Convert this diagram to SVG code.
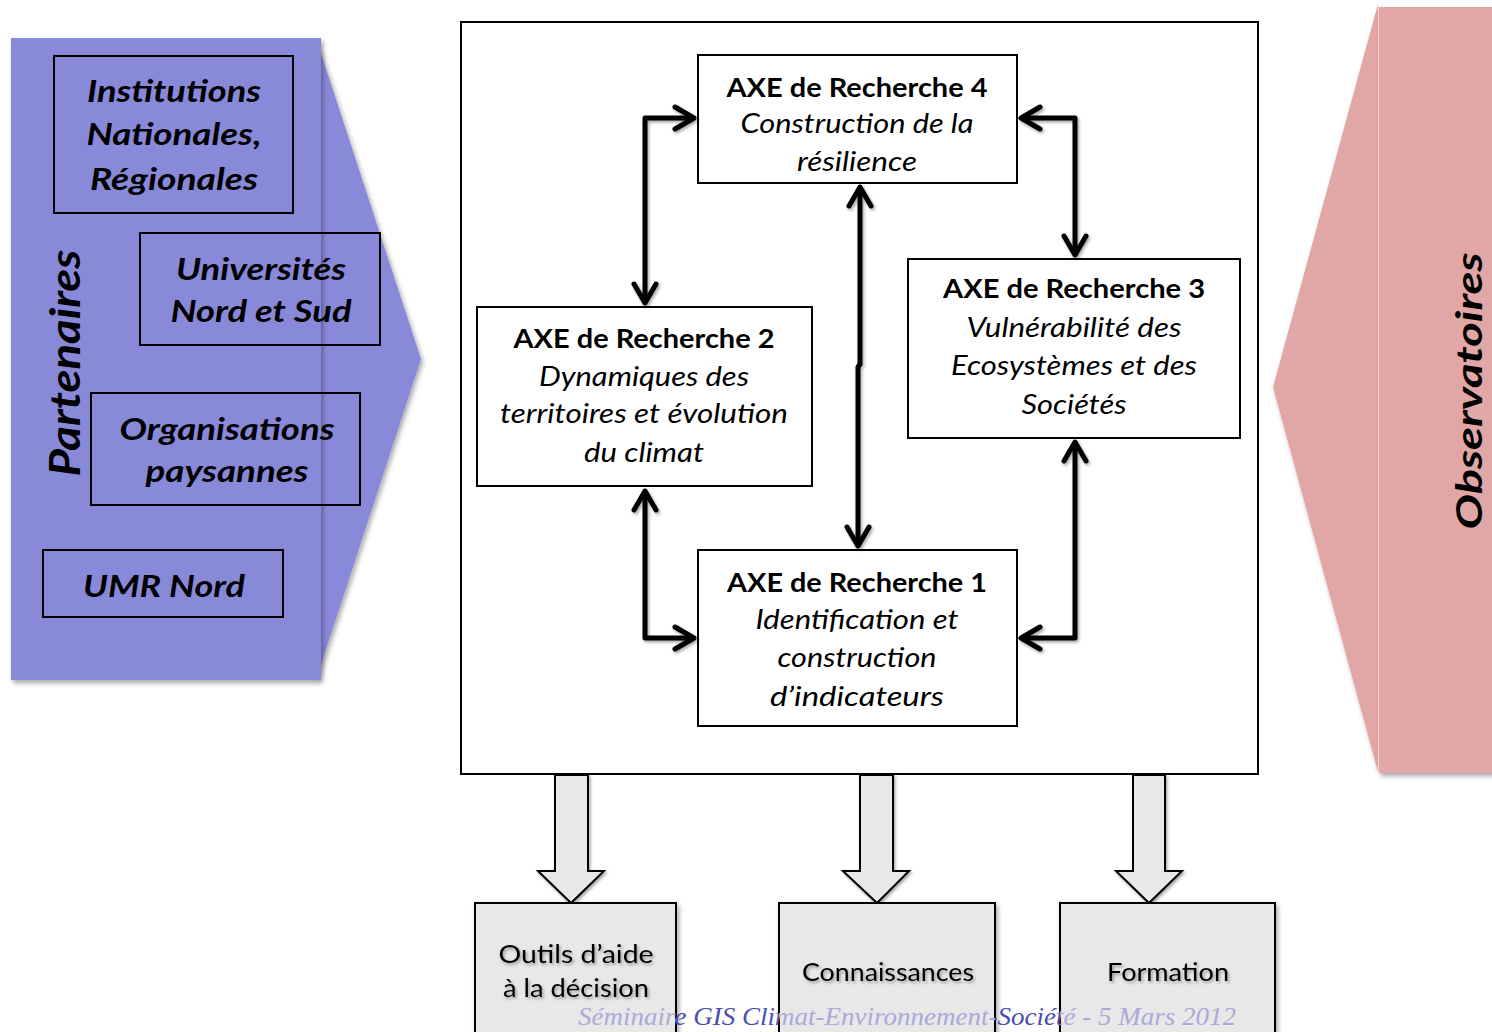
<svg xmlns="http://www.w3.org/2000/svg" width="1492" height="1032" viewBox="0 0 1492 1032">
<style>
.lbl{font-family:Lato,"Open Sans","DejaVu Sans",sans-serif;fill:#000;text-anchor:middle}
.bi{font-weight:bold;font-style:italic;font-size:30px}
.axt{font-weight:bold;font-size:27px}
.axi{font-style:italic;font-size:27px}
.out{font-size:25px}
.box{fill:#fff;stroke:#000;stroke-width:2}
.pbox{fill:none;stroke:#000;stroke-width:2}
.gbox{fill:#e8e8e8;stroke:#000;stroke-width:2}
.conn{fill:none;stroke:#000;stroke-width:5;stroke-linejoin:round}
.barrow{fill:#e8e8e8;stroke:#000;stroke-width:2;stroke-linejoin:miter}
.foot{font-family:"Liberation Serif","DejaVu Serif",serif;font-style:italic;font-size:26px;text-anchor:middle}
</style>
<defs>
<filter id="sh" x="-10%" y="-10%" width="130%" height="130%">
<feDropShadow dx="2" dy="3" stdDeviation="2.5" flood-color="#000" flood-opacity="0.35"/>
</filter>
<filter id="tsh" x="-10%" y="-30%" width="120%" height="160%">
<feDropShadow dx="1.5" dy="2" stdDeviation="1.5" flood-color="#000" flood-opacity="0.35"/>
</filter>
<marker id="chev" viewBox="-24 -14 28 28" markerWidth="28" markerHeight="28" refX="0" refY="0" orient="auto-start-reverse" markerUnits="userSpaceOnUse">
<path d="M -19 -11 L 0 0 L -19 11" fill="none" stroke="#000" stroke-width="5" stroke-linecap="round" stroke-linejoin="round"/>
</marker>
<clipPath id="inBoxes">
<rect x="475" y="903" width="201" height="140"/>
<rect x="779" y="903" width="216" height="140"/>
<rect x="1060" y="903" width="215" height="140"/>
</clipPath>
<clipPath id="outBoxes">
<path clip-rule="evenodd" d="M0 990 H1492 V1032 H0 Z M475 903 H676 V1043 H475 Z M779 903 H995 V1043 H779 Z M1060 903 H1275 V1043 H1060 Z"/>
</clipPath>
</defs>

<!-- Left panel: Partenaires -->
<g id="partenaires-panel">
<path d="M 316 38 L 421 359 L 316 680 Z" fill="#8989da" filter="url(#sh)"/>
<rect x="11" y="38" width="310" height="642" fill="#8989da" filter="url(#sh)"/>
<text class="lbl bi" transform="translate(80,363) rotate(-90)" font-size="42" textLength="227" lengthAdjust="spacingAndGlyphs" style="font-size:42px">Partenaires</text>
</g>
<g id="institutions">
<rect class="pbox" x="54" y="56" width="239" height="157"/>
<text class="lbl bi" x="174" y="102" textLength="174" lengthAdjust="spacingAndGlyphs">Institutions</text>
<text class="lbl bi" x="174" y="145" textLength="175" lengthAdjust="spacingAndGlyphs">Nationales,</text>
<text class="lbl bi" x="174" y="190" textLength="168" lengthAdjust="spacingAndGlyphs">Régionales</text>
</g>
<g id="universites">
<rect class="pbox" x="140" y="233" width="240" height="112"/>
<text class="lbl bi" x="261" y="280" textLength="170" lengthAdjust="spacingAndGlyphs">Universités</text>
<text class="lbl bi" x="261" y="322" textLength="181" lengthAdjust="spacingAndGlyphs">Nord et Sud</text>
</g>
<g id="organisations">
<rect class="pbox" x="91" y="393" width="269" height="112"/>
<text class="lbl bi" x="227" y="440" textLength="215" lengthAdjust="spacingAndGlyphs">Organisations</text>
<text class="lbl bi" x="227" y="482" textLength="163" lengthAdjust="spacingAndGlyphs">paysannes</text>
</g>
<g id="umr-nord">
<rect class="pbox" x="43" y="550" width="240" height="67"/>
<text class="lbl bi" x="164" y="597" textLength="162" lengthAdjust="spacingAndGlyphs">UMR Nord</text>
</g>

<!-- Right panel: Observatoires -->
<g id="observatoires-panel">
<path d="M 1378 4 L 1273 387 L 1378 772 Z" fill="#e0a7a6" filter="url(#sh)"/>
<rect x="1379" y="7" width="120" height="766" fill="#e0a7a6" filter="url(#sh)"/>
<line x1="1378.5" y1="7" x2="1378.5" y2="772" stroke="#f0d0d0" stroke-width="1"/>
<text class="lbl bi" transform="translate(1482,391) rotate(-90)" textLength="277" lengthAdjust="spacingAndGlyphs" style="font-size:36px">Observatoires</text>
</g>

<!-- Main frame -->
<g id="frame">
<rect class="box" x="461" y="22" width="797" height="752"/>
</g>

<g id="axe4">
<rect class="box" x="698" y="55" width="319" height="128"/>
<text class="lbl axt" x="857" y="97" textLength="261" lengthAdjust="spacingAndGlyphs">AXE de Recherche 4</text>
<text class="lbl axi" x="857" y="133" textLength="233" lengthAdjust="spacingAndGlyphs">Construction de la</text>
<text class="lbl axi" x="857" y="171" textLength="120" lengthAdjust="spacingAndGlyphs">résilience</text>
</g>
<g id="axe3">
<rect class="box" x="908" y="259" width="332" height="179"/>
<text class="lbl axt" x="1074" y="298" textLength="262" lengthAdjust="spacingAndGlyphs">AXE de Recherche 3</text>
<text class="lbl axi" x="1074" y="337" textLength="215" lengthAdjust="spacingAndGlyphs">Vulnérabilité des</text>
<text class="lbl axi" x="1074" y="375" textLength="246" lengthAdjust="spacingAndGlyphs">Ecosystèmes et des</text>
<text class="lbl axi" x="1074" y="414" textLength="105" lengthAdjust="spacingAndGlyphs">Sociétés</text>
</g>
<g id="axe2">
<rect class="box" x="477" y="307" width="335" height="179"/>
<text class="lbl axt" x="644" y="348" textLength="261" lengthAdjust="spacingAndGlyphs">AXE de Recherche 2</text>
<text class="lbl axi" x="644" y="386" textLength="210" lengthAdjust="spacingAndGlyphs">Dynamiques des</text>
<text class="lbl axi" x="644" y="423" textLength="288" lengthAdjust="spacingAndGlyphs">territoires et évolution</text>
<text class="lbl axi" x="644" y="462" textLength="120" lengthAdjust="spacingAndGlyphs">du climat</text>
</g>
<g id="axe1">
<rect class="box" x="698" y="550" width="319" height="176"/>
<text class="lbl axt" x="857" y="592" textLength="260" lengthAdjust="spacingAndGlyphs">AXE de Recherche 1</text>
<text class="lbl axi" x="857" y="629" textLength="203" lengthAdjust="spacingAndGlyphs">Identification et</text>
<text class="lbl axi" x="857" y="667" textLength="159" lengthAdjust="spacingAndGlyphs">construction</text>
<text class="lbl axi" x="857" y="706" textLength="174" lengthAdjust="spacingAndGlyphs">d’indicateurs</text>
</g>

<!-- Connectors -->
<g id="connectors" filter="url(#tsh)">
<path class="conn" d="M 645 303 V 118 H 694" marker-start="url(#chev)" marker-end="url(#chev)"/>
<path class="conn" d="M 1021 118 H 1075 V 255" marker-start="url(#chev)" marker-end="url(#chev)"/>
<path class="conn" d="M 860 187 V 364 L 858 367 V 546" marker-start="url(#chev)" marker-end="url(#chev)"/>
<path class="conn" d="M 645 491 V 638 H 694" marker-start="url(#chev)" marker-end="url(#chev)"/>
<path class="conn" d="M 1075 442 V 638 H 1021" marker-start="url(#chev)" marker-end="url(#chev)"/>
<path class="barrow" d="M 555 775 H 588 V 871 H 604 L 571 903 L 538 871 H 555 Z"/>
<path class="barrow" d="M 860 775 H 893 V 871 H 909 L 877 903 L 843 871 H 860 Z"/>
<path class="barrow" d="M 1133 775 H 1165 V 871 H 1182 L 1149 903 L 1116 871 H 1133 Z"/>
</g>

<!-- Output boxes -->
<g id="outils">
<rect class="gbox" x="475" y="903" width="201" height="140" filter="url(#sh)"/>
</g>
<g id="connaissances">
<rect class="gbox" x="779" y="903" width="216" height="140" filter="url(#sh)"/>
</g>
<g id="formation">
<rect class="gbox" x="1060" y="903" width="215" height="140" filter="url(#sh)"/>
</g>

<!-- Footer -->
<g id="footer">
<text class="foot" x="907" y="1025" textLength="658" lengthAdjust="spacingAndGlyphs" fill="#aaaad6" clip-path="url(#inBoxes)">Séminaire GIS Climat-Environnement-Société - 5 Mars 2012</text>
<text class="foot" x="907" y="1025" textLength="658" lengthAdjust="spacingAndGlyphs" fill="#4a4eae" clip-path="url(#outBoxes)">Séminaire GIS Climat-Environnement-Société - 5 Mars 2012</text>
</g>

<g id="output-labels" filter="url(#tsh)">
<text class="lbl out" x="576" y="963" textLength="155" lengthAdjust="spacingAndGlyphs">Outils d’aide</text>
<text class="lbl out" x="576" y="997" textLength="146" lengthAdjust="spacingAndGlyphs">à la décision</text>
<text class="lbl out" x="888" y="981" textLength="172" lengthAdjust="spacingAndGlyphs">Connaissances</text>
<text class="lbl out" x="1168" y="981" textLength="122" lengthAdjust="spacingAndGlyphs">Formation</text>
</g>
</svg>
